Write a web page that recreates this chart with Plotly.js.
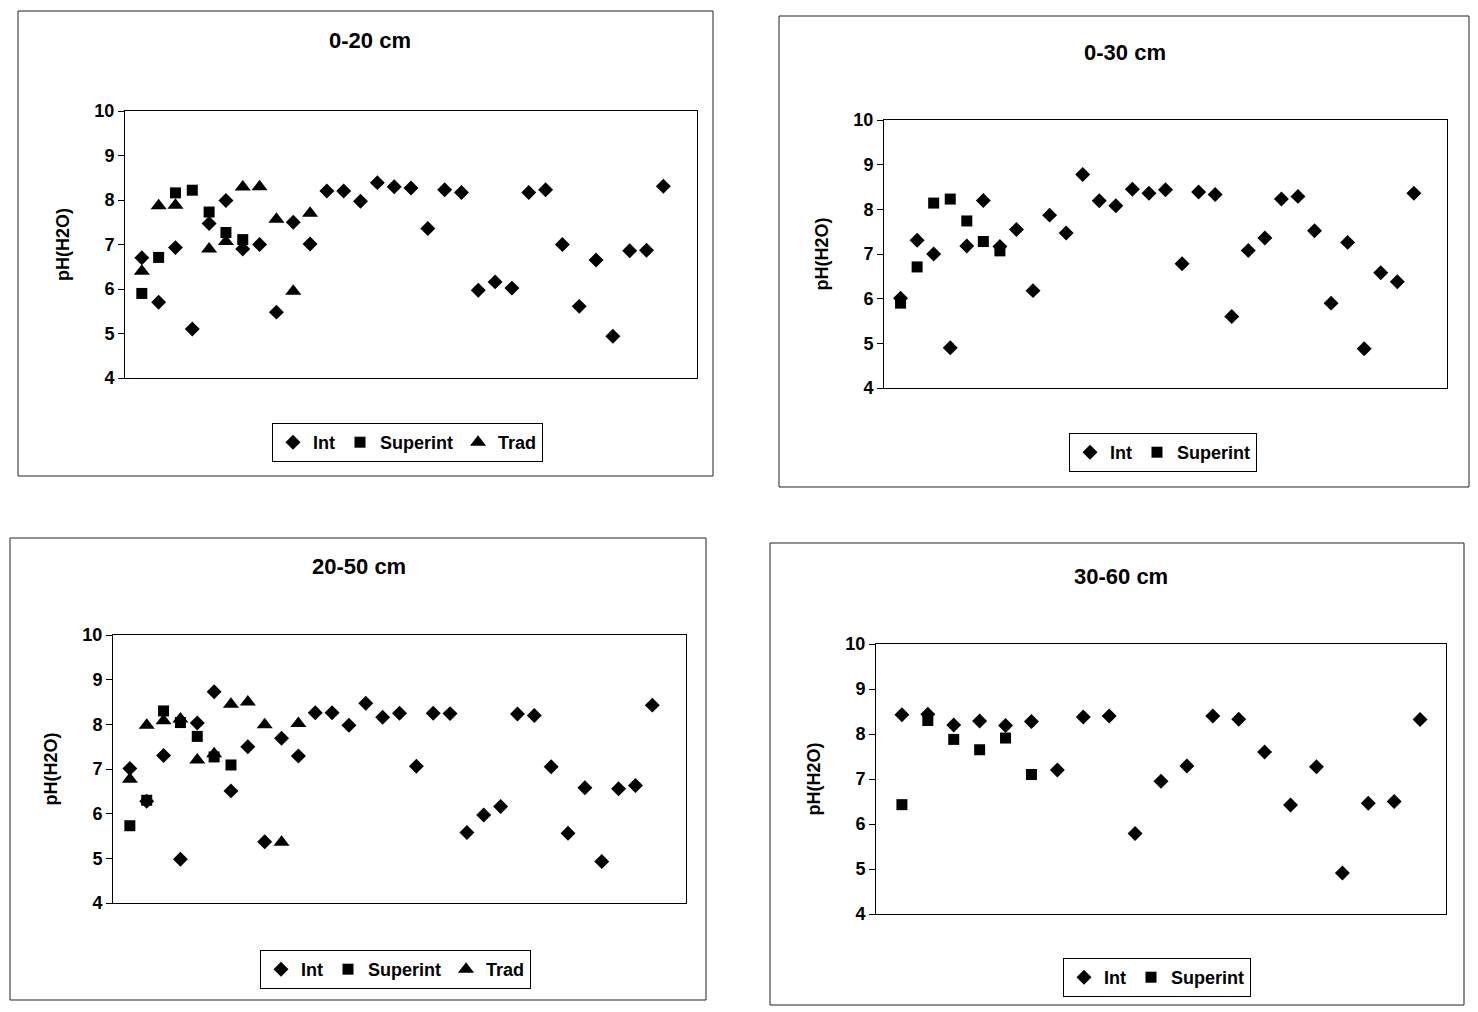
<!DOCTYPE html>
<html>
<head>
<meta charset="utf-8">
<script src="https://cdn.plot.ly/plotly-3.0.1.min.js"></script>
<style>
  html, body { margin: 0; padding: 0; background: #ffffff; }
  #chart { width: 1478px; height: 1012px; }
</style>
</head>
<body>
<div id="chart"></div>
<script>
// ---- Data (sample number along the hidden x axis, pH(H2O) values) ----
const samples32 = [1,2,3,4,5,6,7,8,9,10,11,12,13,14,15,16,17,18,19,20,21,22,23,24,25,26,27,28,29,30,31,32];
const samples21 = [1,2,3,4,5,6,7,8,9,10,11,12,13,14,15,16,17,18,19,20,21];
const samplesSuper = [1,2,3,4,5,6,7];
const samplesSuper4 = [1,2,3,4,5,6];
const samplesTrad = [1,2,3,4,5,6,7,8,9,10,11];

const panelTitles = ["0-20 cm", "0-30 cm", "20-50 cm", "30-60 cm"];
const seriesNames = ["Int", "Superint", "Trad"];
const yTitle = "pH(H2O)";

// 0-20 cm
const int_0_20 = [6.70,5.70,6.93,5.10,7.47,7.99,6.90,7.00,5.48,7.50,7.01,8.20,8.20,7.97,8.39,8.30,8.27,7.36,8.23,8.17,5.97,6.16,6.02,8.17,8.23,7.00,5.61,6.65,4.94,6.86,6.87,8.31];
const superint_0_20 = [5.90,6.71,8.16,8.22,7.73,7.27,7.11];
const trad_0_20 = [6.40,7.87,7.88,null,6.90,7.07,8.29,8.30,7.57,5.95,7.70];

// 0-30 cm
const int_0_30 = [6.01,7.31,7.00,4.90,7.18,8.20,7.17,7.55,6.18,7.87,7.47,8.78,8.19,8.08,8.45,8.36,8.44,6.78,8.39,8.33,5.60,7.08,7.36,8.23,8.29,7.52,5.90,7.26,4.88,6.58,6.38,8.36];
const superint_0_30 = [5.90,6.71,8.14,8.23,7.74,7.28,7.07];

// 20-50 cm
const int_20_50 = [7.01,6.28,7.30,4.98,8.03,8.73,6.51,7.50,5.37,7.69,7.29,8.26,8.26,7.98,8.47,8.16,8.25,7.06,8.25,8.24,5.58,5.97,6.16,8.23,8.20,7.05,5.56,6.58,4.93,6.56,6.63,8.43];
const superint_20_50 = [5.73,6.30,8.30,8.04,7.73,7.27,7.09];
const trad_20_50 = [6.77,7.98,8.08,8.12,7.20,7.34,8.45,8.50,7.99,5.36,8.02];

// 30-60 cm
const int_30_60 = [8.43,8.44,8.20,8.29,8.19,8.28,7.20,8.38,8.40,5.79,6.95,7.29,8.40,8.33,7.60,6.42,7.27,4.91,6.46,6.50,8.32];
const superint_30_60 = [6.43,8.30,7.88,7.65,7.91,7.10];

// ---- Styling / layout ----
const W = 1478, H = 1012;
const FONT = "Liberation Sans, Arial, Helvetica, sans-serif";
const px = v => v / W;
const py = v => 1 - v / H;

function mk(name, x, y, symbol, size, xa, ya, legend) {
  return {
    type: "scatter", mode: "markers", name: name, x: x, y: y,
    xaxis: xa, yaxis: ya, legend: legend,
    marker: { symbol: symbol, size: size, color: "#000000", line: { width: 0 } },
    hoverinfo: "x+y+name"
  };
}

const traces = [
  mk(seriesNames[0], samples32, int_0_20, "diamond", 11.5, "x", "y", "legend"),
  mk(seriesNames[1], samplesSuper, superint_0_20, "square", 11, "x", "y", "legend"),
  mk(seriesNames[2], samplesTrad, trad_0_20, "triangle-up", 14, "x", "y", "legend"),

  mk(seriesNames[0], samples32, int_0_30, "diamond", 11.5, "x2", "y2", "legend2"),
  mk(seriesNames[1], samplesSuper, superint_0_30, "square", 11, "x2", "y2", "legend2"),

  mk(seriesNames[0], samples32, int_20_50, "diamond", 11.5, "x3", "y3", "legend3"),
  mk(seriesNames[1], samplesSuper, superint_20_50, "square", 11, "x3", "y3", "legend3"),
  mk(seriesNames[2], samplesTrad, trad_20_50, "triangle-up", 14, "x3", "y3", "legend3"),

  mk(seriesNames[0], samples21, int_30_60, "diamond", 11.5, "x4", "y4", "legend4"),
  mk(seriesNames[1], samplesSuper4, superint_30_60, "square", 11, "x4", "y4", "legend4")
];

function xax(x0, x1, anchor, maxX) {
  return {
    domain: [px(x0), px(x1)], anchor: anchor, range: [0, maxX],
    showticklabels: false, ticks: "", showgrid: false, zeroline: false,
    showline: true, mirror: true, linecolor: "#000000", linewidth: 1
  };
}
function yax(top, bottom, anchor) {
  return {
    domain: [py(bottom), py(top)], anchor: anchor, range: [4, 10],
    tick0: 4, dtick: 1, ticks: "outside", ticklen: 6, tickcolor: "#000000",
    showgrid: false, zeroline: false,
    showline: true, mirror: true, linecolor: "#000000", linewidth: 1,
    tickfont: { family: FONT, size: 18, color: "#000000", weight: 700 },
    title: { text: yTitle, standoff: 20, font: { family: FONT, size: 18, color: "#000000", weight: 700 } },
    automargin: false
  };
}
function leg(x, y) {
  return {
    orientation: "h", x: px(x), y: py(y), xanchor: "left", yanchor: "top",
    bgcolor: "#ffffff", bordercolor: "#000000", borderwidth: 1,
    font: { family: FONT, size: 18, color: "#000000", weight: 700 },
    itemwidth: 30, tracegroupgap: 0
  };
}
function ttl(text, cx, cy) {
  return {
    text: text, xref: "paper", yref: "paper", x: px(cx), y: py(cy),
    xanchor: "center", yanchor: "middle", showarrow: false,
    font: { family: FONT, size: 22, color: "#000000", weight: 700 }
  };
}
function box(x0, y0, x1, y1) {
  return {
    type: "rect", xref: "paper", yref: "paper",
    x0: px(x0), x1: px(x1), y0: py(y1), y1: py(y0),
    line: { color: "#222222", width: 1 }, fillcolor: "rgba(0,0,0,0)", layer: "below"
  };
}

const layout = {
  width: W, height: H,
  margin: { l: 0, r: 0, t: 0, b: 0, pad: 0 },
  paper_bgcolor: "#ffffff", plot_bgcolor: "#ffffff",
  font: { family: FONT, color: "#000000" },
  showlegend: true,
  xaxis: xax(125, 697, "y", 34),
  yaxis: yax(111, 378, "x"),
  xaxis2: xax(884, 1447, "y2", 34),
  yaxis2: yax(120, 388, "x2"),
  xaxis3: xax(113, 686, "y3", 34),
  yaxis3: yax(635, 903, "x3"),
  xaxis4: xax(876, 1446, "y4", 22),
  yaxis4: yax(644, 914, "x4"),
  legend: leg(272, 423),
  legend2: leg(1069, 433),
  legend3: leg(260, 950),
  legend4: leg(1063, 958),
  annotations: [
    ttl(panelTitles[0], 370, 41),
    ttl(panelTitles[1], 1125, 52),
    ttl(panelTitles[2], 359, 566),
    ttl(panelTitles[3], 1121, 576)
  ],
  shapes: [
    box(18, 11, 713, 476),
    box(779, 16, 1469, 487),
    box(10, 538, 706, 1000),
    box(770, 543, 1464, 1005)
  ]
};

Plotly.newPlot("chart", traces, layout, { staticPlot: true, displayModeBar: false });
</script>
</body>
</html>
